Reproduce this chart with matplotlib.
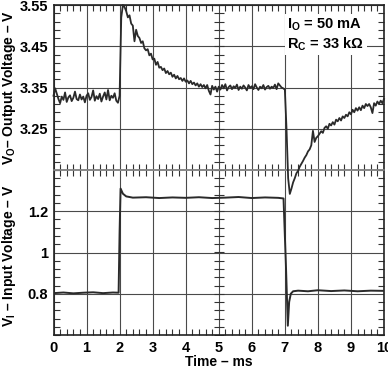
import numpy as np
import matplotlib
matplotlib.use("Agg")
import matplotlib.pyplot as plt

plt.rcParams['font.family'] = ['Liberation Sans', 'DejaVu Sans']
plt.rcParams['font.weight'] = 'bold'
plt.rcParams['mathtext.fontset'] = 'custom'
plt.rcParams['mathtext.rm'] = 'Liberation Sans:bold'
plt.rcParams['mathtext.it'] = 'Liberation Sans:bold'
plt.rcParams['mathtext.bf'] = 'Liberation Sans:bold'

# ---------------- data ----------------
# output voltage, sampled every 0.05 ms from 0 to 10 ms
vo_time = np.linspace(0, 10, 201)
vo_values = [
    3.330, 3.348, 3.335, 3.322, 3.312, 3.328, 3.320, 3.338, 3.315, 3.326,
    3.331, 3.317, 3.325, 3.340, 3.322, 3.319, 3.333, 3.321, 3.328, 3.314,
    3.330, 3.336, 3.320, 3.327, 3.343, 3.318, 3.329, 3.322, 3.335, 3.316,
    3.328, 3.338, 3.321, 3.344, 3.319, 3.330, 3.325, 3.336, 3.318, 3.313,
    3.330, 3.520, 3.550, 3.545, 3.535, 3.520, 3.525, 3.505, 3.500, 3.462,
    3.490, 3.475, 3.470, 3.458, 3.462, 3.445, 3.440, 3.443, 3.428, 3.432,
    3.418, 3.420, 3.405, 3.412, 3.398, 3.400, 3.392, 3.396, 3.385, 3.390,
    3.382, 3.386, 3.376, 3.381, 3.372, 3.378, 3.370, 3.373, 3.366, 3.372,
    3.364, 3.367, 3.360, 3.366, 3.358, 3.362, 3.355, 3.360, 3.352, 3.358,
    3.351, 3.356, 3.348, 3.356, 3.342, 3.333, 3.354, 3.345, 3.352, 3.340,
    3.352, 3.345, 3.356, 3.348, 3.358, 3.343, 3.351, 3.355, 3.346, 3.353,
    3.349, 3.357, 3.344, 3.352, 3.347, 3.355, 3.350, 3.343, 3.356, 3.349,
    3.353, 3.346, 3.358, 3.350, 3.344, 3.352, 3.348, 3.356, 3.345, 3.351,
    3.354, 3.347, 3.352, 3.349, 3.357, 3.346, 3.360, 3.355, 3.350, 3.348,
    3.345, 3.250, 3.130, 3.092, 3.105, 3.120, 3.130, 3.142, 3.148, 3.158,
    3.165, 3.172, 3.180, 3.186, 3.195, 3.200, 3.210, 3.245, 3.218, 3.228,
    3.232, 3.238, 3.244, 3.240, 3.252, 3.256, 3.250, 3.262, 3.258, 3.266,
    3.260, 3.272, 3.268, 3.276, 3.270, 3.280, 3.276, 3.284, 3.280, 3.290,
    3.285, 3.296, 3.290, 3.300, 3.294, 3.302, 3.295, 3.306, 3.300, 3.310,
    3.305, 3.310, 3.302, 3.288, 3.312, 3.306, 3.316, 3.310, 3.318, 3.312,
    3.322,
]

# input voltage, breakpoints (ms, V)
vi_time = [0, 0.3, 0.6, 0.9, 1.2, 1.5, 1.8, 1.97, 2.0, 2.03, 2.1, 2.2, 2.4,
           2.8, 3.2, 3.6, 4.0, 4.4, 4.8, 5.2, 5.6, 6.0, 6.4, 6.8, 6.96, 7.03,
           7.09, 7.13, 7.18, 7.25, 7.4, 7.7, 8.0, 8.4, 8.8, 9.2, 9.6, 10.0]
vi_values = [0.803, 0.806, 0.802, 0.805, 0.807, 0.803, 0.806, 0.805, 1.10,
             1.31, 1.285, 1.272, 1.266, 1.268, 1.264, 1.267, 1.265, 1.268,
             1.264, 1.266, 1.269, 1.264, 1.267, 1.265, 1.262, 0.95, 0.645,
             0.76, 0.80, 0.812, 0.815, 0.812, 0.817, 0.813, 0.816, 0.812,
             0.815, 0.814]

x_ticks = list(range(0, 11))
top_ticks = [3.25, 3.35, 3.45, 3.55]
top_labels = ["3.25", "3.35", "3.45", "3.55"]
bot_ticks = [0.8, 1.0, 1.2]
bot_labels = ["0.8", "1", "1.2"]

# ---------------- figure ----------------
fig = plt.figure(figsize=(3.88, 3.68), dpi=100)
L, R = 53.5 / 388, 384 / 388
ytop, ymid, ybot = 1 - 5 / 368, 1 - 170 / 368, 1 - 335 / 368
ax_b = fig.add_axes([L, ybot, R - L, ymid - ybot])
ax_t = fig.add_axes([L, ymid, R - L, ytop - ymid])
ax_t.set_zorder(3)
ax_t.set_facecolor('none')

trace = '#2a2a2a'
gridc = '#4a4a4a'

for ax, lo, hi, step in [(ax_t, 3.15, 3.55, 0.02), (ax_b, 0.6, 1.4, 0.04)]:
    ax.set_xlim(0, 10)
    ax.set_ylim(lo, hi)
    ax.set_xticks(x_ticks)
    ax.set_xticks(np.arange(0, 10.001, 0.2), minor=True)
    ax.set_yticks(np.arange(lo, hi + 1e-9, step), minor=True)
    ax.grid(True, which='major', color=gridc, lw=0.8)
    ax.tick_params(which='major', length=0, labelsize=10.5, pad=4)
    ax.tick_params(which='minor', direction='in', length=4, width=0.8,
                   color='#333333', top=True, right=True, bottom=True, left=True)
    for s in ax.spines.values():
        s.set_linewidth(1.2)
        s.set_color('#222222')
    # center crosshair ticks on x = 5
    ys = np.arange(lo, hi + 1e-9, step)
    ax.plot([5] * len(ys), ys, ls='none', marker='_', ms=7, mew=0.8,
            color='#333333', zorder=2)

ax_t.spines['bottom'].set_color('#888888')
ax_b.spines['top'].set_color('#888888')

ax_t.set_yticks(top_ticks)
ax_t.set_yticklabels(top_labels, fontweight='bold')
ax_t.set_xticklabels([])
ax_b.set_yticks(bot_ticks)
ax_b.set_yticklabels(bot_labels, fontweight='bold')
ax_b.set_xticklabels([str(v) for v in x_ticks], fontweight='bold')

ax_t.plot(vo_time, vo_values, color=trace, lw=1.3, clip_on=False, zorder=4)
ax_b.plot(vi_time, vi_values, color=trace, lw=1.4, zorder=4)

ax_t.set_ylabel(r'V$_{\rm O}$– Output Voltage – V', fontsize=10, fontweight='bold')
ax_b.set_ylabel(r'V$_{\rm I}$ – Input Voltage – V', fontsize=10, fontweight='bold')
ax_t.yaxis.set_label_coords(-0.108, 0.5)
ax_b.yaxis.set_label_coords(-0.108, 0.48)
ax_b.set_xlabel('Time – ms', fontsize=10, fontweight='bold', labelpad=0)

ax_t.text(7.08, 3.478, 'I$_{\\rm O}$ = 50 mA\nR$_{\\rm C}$ = 33 k\u03a9', fontsize=10.5,
          fontweight='bold', va='center', ha='left', linespacing=1.15,
          bbox=dict(facecolor='white', edgecolor='none', pad=2), zorder=5)

fig.savefig('out.png', dpi=100, facecolor='white')
